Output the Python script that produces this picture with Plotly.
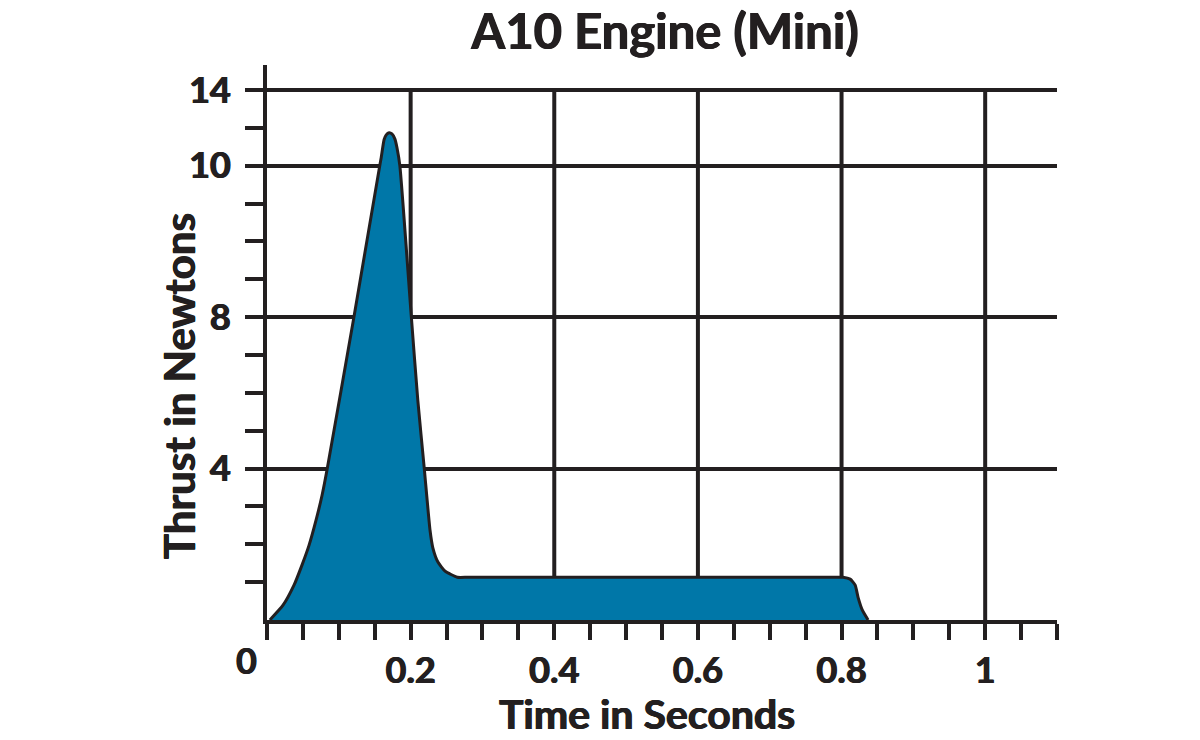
import numpy as np
import plotly.graph_objects as go

# ---- data ----
time_s = [0.004, 0.0223, 0.0376, 0.0487, 0.0585, 0.0682, 0.0766, 0.0836, 0.121,
          0.157, 0.159, 0.163, 0.166, 0.170, 0.174, 0.178, 0.181, 0.185, 0.201,
          0.210, 0.219, 0.227, 0.231, 0.238, 0.248, 0.265, 0.280, 0.400, 0.600,
          0.790, 0.802, 0.812, 0.819, 0.823, 0.829, 0.837]
thrust_n = [0.0, 0.39, 0.92, 1.45, 1.97, 2.63, 3.29, 3.97, 8.0,
            10.0, 10.42, 11.37, 11.63, 11.74, 11.68, 11.42, 10.95, 10.0, 8.0,
            5.8, 4.0, 2.37, 1.9, 1.53, 1.29, 1.13, 1.13, 1.13, 1.13,
            1.13, 1.13, 1.08, 0.92, 0.6, 0.26, 0.0]

x_major = [0.2, 0.4, 0.6, 0.8, 1.0]
x_major_text = ["0.2", "0.4", "0.6", "0.8", "1"]
y_labels = [4, 8, 10, 14]          # thrust values labelled on the axis
# the chart's y scale is broken: equal steps for 0-4-8, then 8-10, then 10-14 half size
y_break_values = [0, 4, 8, 10, 14]
y_break_pos = [0, 4, 8, 12, 14]

title = "A10 Engine (Mini)"
x_title = "Time in Seconds"
y_title = "Thrust in Newtons"

# ---- styling ----
INK = "#231f20"
FILL = "#0077a8"
FONT = "Lato"
W = "bold"
SHADOW = "0.6px 0 0 #231f20, -0.6px 0 0 #231f20"

FIG_W, FIG_H = 1200, 740
PL, PR, PT, PB = 267, 1057, 65, 620   # plot area in pixels
pw, ph = PR - PL, PB - PT


def px_x(sx):
    return (sx - PL) / pw


def px_y(sy):
    return (PB - sy) / ph


def to_axis(v):
    return np.interp(v, y_break_values, y_break_pos)


def tfont(size):
    return dict(family=FONT, size=size, color=INK, weight=W, shadow=SHADOW)


y_pos = to_axis(thrust_n)
y_tick_pos = list(to_axis(y_labels))
y_minor = [p for p in range(1, 14) if p not in y_tick_pos]
y_top = 14.66

fig = go.Figure()
fig.add_trace(go.Scatter(
    x=time_s, y=y_pos, customdata=thrust_n,
    mode="lines", fill="tozeroy", fillcolor=FILL,
    line=dict(color=INK, width=3, shape="spline", smoothing=0.5),
    hovertemplate="t=%{x}s<br>%{customdata} N<extra></extra>",
    showlegend=False,
))

# vertical grid lines stop at the top labelled value (14)
for xv in x_major:
    fig.add_shape(type="line", xref="x", yref="y", x0=xv, x1=xv, y0=0,
                  y1=to_axis(14), line=dict(color=INK, width=4), layer="below")

fig.update_layout(
    width=FIG_W, height=FIG_H,
    paper_bgcolor="white", plot_bgcolor="white",
    margin=dict(l=PL, r=FIG_W - PR, t=PT, b=FIG_H - PB),
    title=dict(text=title, x=px_x(665), xref="paper",
               y=1 - 32 / FIG_H, yref="container", yanchor="middle",
               xanchor="center", font=tfont(49)),
    font=dict(family=FONT, color=INK),
)

fig.update_xaxes(
    range=[0, 1.1], showgrid=False, zeroline=False,
    showline=True, linecolor=INK, linewidth=4,
    tickmode="array", tickvals=[0] + x_major, ticktext=[""] + x_major_text,
    ticks="outside", ticklen=16, tickwidth=4, tickcolor=INK,
    tickfont=tfont(36),
    minor=dict(dtick=0.05, tick0=0, ticks="outside", ticklen=16,
               tickwidth=4, tickcolor=INK, showgrid=False),
)
fig.update_yaxes(
    range=[0, y_top], zeroline=False,
    showline=True, linecolor=INK, linewidth=4,
    tickmode="array", tickvals=y_tick_pos, ticktext=[str(v) for v in y_labels],
    showgrid=True, gridcolor=INK, gridwidth=4,
    ticks="outside", ticklen=18, tickwidth=4, tickcolor=INK,
    ticklabelstandoff=7,
    tickfont=tfont(36),
    minor=dict(tickvals=y_minor, ticks="outside", ticklen=18,
               tickwidth=4, tickcolor=INK, showgrid=False),
)

fig.add_annotation(text="0", x=0, xref="x", y=px_y(660), yref="paper",
                   xshift=-21, yanchor="middle", showarrow=False,
                   font=tfont(36))
fig.add_annotation(text=x_title, x=px_x(647), xref="paper", y=px_y(713),
                   yref="paper", showarrow=False, yanchor="middle",
                   font=tfont(41))
fig.add_annotation(text=y_title, x=px_x(152), xref="paper", y=px_y(386),
                   yref="paper", textangle=-90, showarrow=False,
                   font=tfont(42))

fig.write_html("out.html", config={"displayModeBar": False},
               post_script="document.body.style.margin='0';")
